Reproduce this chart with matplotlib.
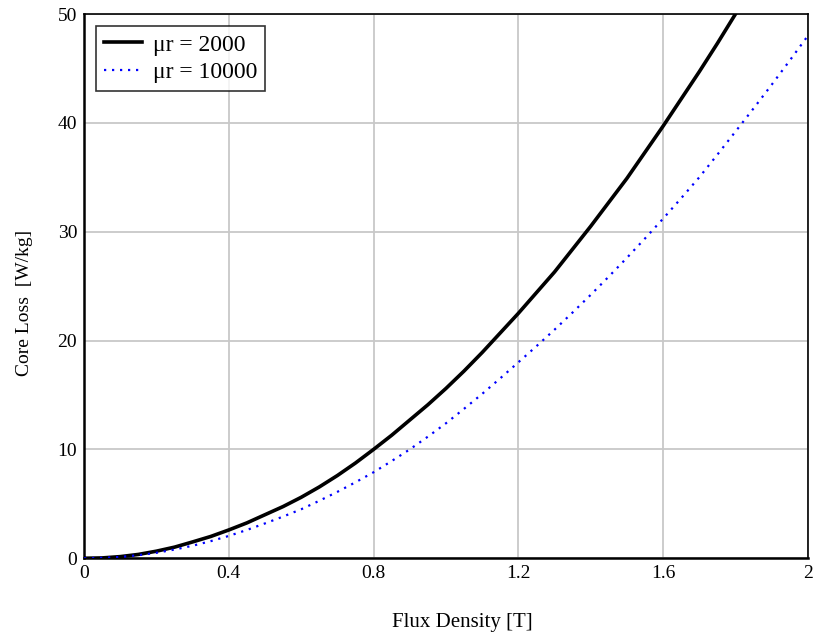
import matplotlib
matplotlib.use("Agg")
import matplotlib.pyplot as plt

# flux density [T] and core loss [W/kg]
b_2000 = [0.0, 0.05, 0.1, 0.15, 0.2, 0.25, 0.3, 0.35, 0.4, 0.45, 0.5, 0.55, 0.6, 0.65,
	0.7, 0.75, 0.8, 0.85, 0.9, 0.95, 1.0, 1.05, 1.1, 1.15, 1.2, 1.25, 1.3, 1.35,
	1.4, 1.45, 1.5, 1.55, 1.6, 1.65, 1.7, 1.75, 1.8]
loss_2000 = [0.0, 0.03, 0.15, 0.35, 0.65, 1.02, 1.5, 2.0, 2.6, 3.25, 4.0, 4.75, 5.6, 6.55,
	7.6, 8.75, 10.0, 11.3, 12.7, 14.1, 15.6, 17.2, 18.9, 20.7, 22.5, 24.4, 26.3, 28.4,
	30.5, 32.7, 34.9, 37.3, 39.7, 42.2, 44.7, 47.3, 50.0]

b_10000 = [0.0, 0.05, 0.1, 0.15, 0.2, 0.25, 0.3, 0.35, 0.4, 0.45, 0.5, 0.55, 0.6, 0.65,
	0.7, 0.75, 0.8, 0.85, 0.9, 0.95, 1.0, 1.05, 1.1, 1.15, 1.2, 1.25, 1.3, 1.35,
	1.4, 1.45, 1.5, 1.55, 1.6, 1.65, 1.7, 1.75, 1.8, 1.85, 1.9, 1.95, 2.0]
loss_10000 = [0.0, 0.03, 0.12, 0.28, 0.5, 0.8, 1.15, 1.57, 2.05, 2.6, 3.2, 3.83, 4.5, 5.28,
	6.1, 6.98, 7.9, 8.93, 10.0, 11.17, 12.4, 13.73, 15.1, 16.53, 18.0, 19.48, 21.0, 22.58,
	24.2, 25.88, 27.6, 29.38, 31.2, 33.08, 35.0, 37.08, 39.2, 41.33, 43.5, 45.73, 48.0]

x_ticks = [0, 0.4, 0.8, 1.2, 1.6, 2]
x_tick_labels = ["0", "0.4", "0.8", "1.2", "1.6", "2"]
y_ticks = [0, 10, 20, 30, 40, 50]

plt.rcParams["font.family"] = ["Liberation Serif", "DejaVu Serif"]

fig = plt.figure(figsize=(8.16, 6.38), dpi=100)
ax = fig.add_axes([0.103, 0.125, 0.887, 0.853])

ax.plot(b_2000, loss_2000, color="black", lw=2.6, label="μr = 2000", zorder=3)
ax.plot(b_10000, loss_10000, color="blue", lw=1.6, linestyle=(0, (1, 2.6)),
	label="μr = 10000", zorder=3)

ax.set_xlim(0, 2)
ax.set_ylim(0, 50)
ax.set_xticks(x_ticks)
ax.set_xticklabels(x_tick_labels)
ax.set_yticks(y_ticks)
ax.tick_params(length=0, labelsize=14, pad=5)
ax.grid(True, color="#c8c8c8", lw=1.3)
ax.set_axisbelow(True)

for side in ["left", "bottom"]:
	ax.spines[side].set_linewidth(1.8)
for side in ["top", "right"]:
	ax.spines[side].set_linewidth(1.2)

ax.set_xlabel("Flux Density [T]", fontsize=15)
ax.set_ylabel("Core Loss  [W/kg]", fontsize=14)
ax.xaxis.set_label_coords(0.523, -0.1)
ax.yaxis.set_label_coords(-0.07, 0.47)

leg = ax.legend(loc="upper left", fontsize=17, frameon=True, fancybox=False,
	edgecolor="black", borderaxespad=0.5, handlelength=1.6, borderpad=0.35,
	labelspacing=0.25, handletextpad=0.45)
leg.get_frame().set_linewidth(1.2)

fig.savefig("out.png", dpi=100)
